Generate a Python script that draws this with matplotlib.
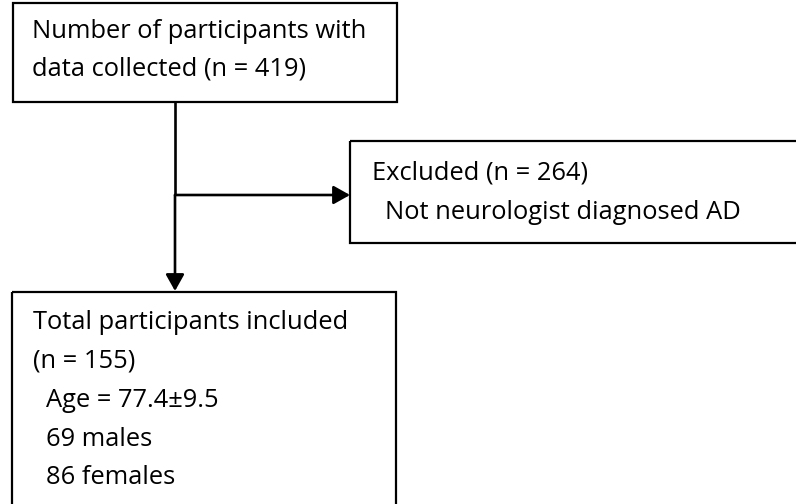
import matplotlib
matplotlib.use("Agg")
import matplotlib.pyplot as plt
from matplotlib.patches import Rectangle, FancyArrowPatch

# ---- data (flow counts and box texts) ----
n_collected = 419
n_excluded = 264
n_included = 155
age_mean, age_sd = 77.4, 9.5
n_males = 69
n_females = 86

box1_lines = ["Number of participants with", f"data collected (n = {n_collected})"]
box2_lines = [f"Excluded (n = {n_excluded})", "Not neurologist diagnosed AD"]
box3_lines = ["Total participants included", f"(n = {n_included})",
              f"Age = {age_mean}\u00b1{age_sd}", f"{n_males} males", f"{n_females} females"]

W, H = 796, 504
fig = plt.figure(figsize=(W / 100, H / 100), dpi=100)
ax = fig.add_axes([0, 0, 1, 1])
ax.set_xlim(0, W)
ax.set_ylim(H, 0)
ax.axis("off")

FONT = "Open Sans"
FS = 18.4
LW_BOX = 1.6
LW_ARROW = 1.9

def box(x0, y0, x1, y1):
    ax.add_patch(Rectangle((x0, y0), x1 - x0, y1 - y0, fill=False,
                           edgecolor="black", linewidth=LW_BOX))

# boxes
box(13, 3, 397, 102)
box(350, 141, 805, 243)
box(12, 292, 396, 515)

# text
def put(x, y, s):
    ax.text(x, y, s, fontsize=FS, family=FONT, color="black",
            ha="left", va="baseline")

put(32, 38, box1_lines[0])
put(32, 76, box1_lines[1])
put(372, 179, box2_lines[0])
put(385, 219, box2_lines[1])
b3_x = [33, 33, 46, 46, 46]
b3_y = [329, 368, 407, 446, 484]
for x, y, s in zip(b3_x, b3_y, box3_lines):
    put(x, y, s)

# arrows
ax.plot([175, 175], [102, 195], color="black", lw=LW_ARROW, solid_capstyle="butt")
for start, end in [((175, 195), (350, 195)), ((175, 195), (175, 291))]:
    ax.add_patch(FancyArrowPatch(start, end, arrowstyle="-|>,head_length=10,head_width=5.6",
                                 mutation_scale=1, color="black", lw=LW_ARROW,
                                 shrinkA=0, shrinkB=0))

fig.savefig("out.png", dpi=100, facecolor="white")
